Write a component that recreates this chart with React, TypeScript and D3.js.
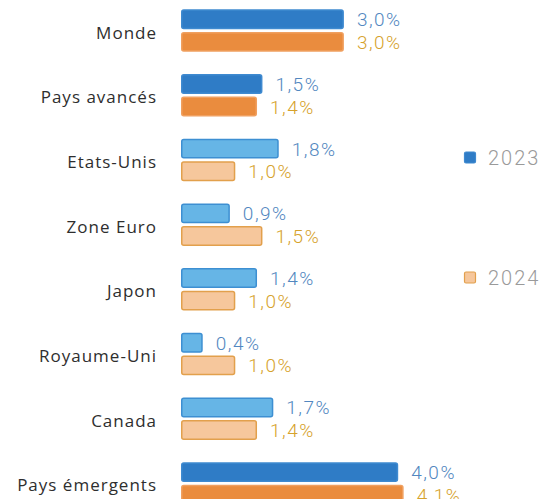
import React from "react";
import * as d3 from "d3";

const categories = [
  "Monde",
  "Pays avancés",
  "Etats-Unis",
  "Zone Euro",
  "Japon",
  "Royaume-Uni",
  "Canada",
  "Pays émergents",
];
const seriesKeys = ["2023", "2024"];
const values2023 = [3.0, 1.5, 1.8, 0.9, 1.4, 0.4, 1.7, 4.0];
const values2024 = [3.0, 1.4, 1.0, 1.5, 1.0, 1.0, 1.4, 4.1];
const aggregates = ["Monde", "Pays avancés", "Pays émergents"];

const fmt = (v: number) => v.toFixed(1).replace(".", ",") + "%";

const W = 542;
const H = 499;

const colors = {
  "2023": { strong: "#2f7cc6", strongStroke: "#3f8ad0", light: "#66b5e6", lightStroke: "#3d8fd2", text: "#5287c0" },
  "2024": { strong: "#ea8c3e", strongStroke: "#f0a060", light: "#f6c79c", lightStroke: "#e2a04c", text: "#d6a22c" },
};

export default function App() {
  const y = d3.scaleBand<string>().domain(categories).range([-1.8, -1.8 + 64.7 * categories.length]).padding(0);
  const inner = d3.scaleBand<string>().domain(seriesKeys).range([11.1, 53.6]).paddingInner(0.12);
  const x = d3.scaleLinear().domain([0, 4.5]).range([181, 181 + 54.3 * 4.5]);

  const rows = categories.map((c, i) => ({ c, vals: [values2023[i], values2024[i]] }));

  return (
    <svg width={W} height={H} style={{ position: "absolute", left: 0, top: 0, background: "#fff" }}>
      <rect x={0} y={0} width={W} height={H} fill="#fff" />
      {rows.map(({ c, vals }) => {
        const y0 = y(c)!;
        const strong = aggregates.includes(c);
        const groupMid = y0 + 11.1 + 42.5 / 2;
        return (
          <g key={c}>
            <text
              x={157}
              y={groupMid + 8}
              textAnchor="end"
              fontFamily="'Open Sans', sans-serif"
              fontSize={17}
              letterSpacing={1}
              fill="#2e2e2e"
            >
              {c}
            </text>
            {seriesKeys.map((k, j) => {
              const v = vals[j];
              const col = (colors as any)[k];
              const by = y0 + inner(k)!;
              const bh = inner.bandwidth();
              const xe = x(v);
              return (
                <g key={k}>
                  <rect
                    x={x(0) + 0.75}
                    y={by + 0.75}
                    width={xe - x(0) - 1.5}
                    height={bh - 1.5}
                    rx={2}
                    fill={strong ? col.strong : col.light}
                    stroke={strong ? col.strongStroke : col.lightStroke}
                    strokeWidth={1.5}
                  />
                  <text
                    x={xe + 13}
                    y={by + bh / 2 + 7}
                    fontFamily="Roboto, sans-serif"
                    fontWeight={300}
                    fontSize={19}
                    letterSpacing={1.5}
                    fill={col.text}
                  >
                    {fmt(v)}
                  </text>
                </g>
              );
            })}
          </g>
        );
      })}
      {seriesKeys.map((k, i) => {
        const col = (colors as any)[k];
        const ly = [158, 278][i];
        return (
          <g key={k}>
            <rect
              x={464.5}
              y={ly - 6}
              width={11}
              height={11}
              rx={1.5}
              fill={i === 0 ? col.strong : col.light}
              stroke={i === 0 ? col.strongStroke : col.lightStroke}
              strokeWidth={1.2}
            />
            <text
              x={488}
              y={ly + 7}
              fontFamily="Roboto, sans-serif"
              fontWeight={300}
              fontSize={20}
              letterSpacing={2}
              fill="#9a9a9a"
            >
              {k}
            </text>
          </g>
        );
      })}
    </svg>
  );
}
